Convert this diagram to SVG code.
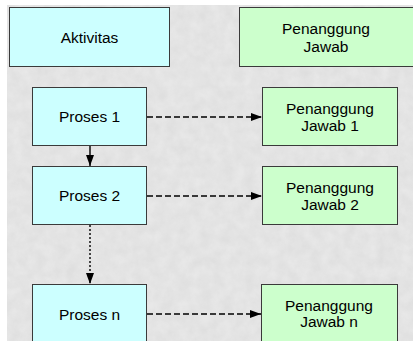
<svg xmlns="http://www.w3.org/2000/svg" width="413" height="341" viewBox="0 0 413 341">
<defs>
<filter id="tex" x="0" y="0" width="100%" height="100%">
<feTurbulence type="fractalNoise" baseFrequency="0.09" numOctaves="3" seed="4" result="n"/>
<feColorMatrix in="n" type="matrix" values="0 0 0 0 0.55  0 0 0 0 0.55  0 0 0 0 0.55  0 0 0 -1.2 1.0" result="m"/>
<feComposite in="m" in2="SourceGraphic" operator="in"/>
</filter>
<marker id="ah" viewBox="0 0 11 8" refX="11" refY="4" markerWidth="11" markerHeight="8" markerUnits="userSpaceOnUse" orient="auto">
<path d="M0,0 L11,4 L0,8 Z" fill="#000"/>
</marker>
</defs>
<style>
.a{fill:#ccffff;stroke:#3a3a3a;stroke-width:1}
.g{fill:#ccffcc;stroke:#3a3a3a;stroke-width:1}
text{font-family:"Liberation Sans",Arial,sans-serif;font-size:15.5px;fill:#000;text-anchor:middle}
.c{stroke:#000;stroke-width:1.4;fill:none}
</style>
<rect x="0" y="0" width="413" height="341" fill="#ffffff"/>
<rect x="7" y="5" width="406" height="336" fill="#e8e8e8"/>
<rect x="7" y="5" width="406" height="336" fill="#e8e8e8" filter="url(#tex)" opacity="0.3"/>
<g id="hdr-aktivitas">
<rect class="a" x="9.5" y="7.5" width="160" height="59"/>
<text x="89.5" y="42.5">Aktivitas</text>
</g>
<g id="hdr-pj">
<rect class="g" x="239.5" y="7.5" width="180" height="59"/>
<text x="326" y="34">Penanggung</text>
<text x="326" y="52">Jawab</text>
</g>
<g id="proses1">
<rect class="a" x="32.5" y="87.5" width="114" height="58"/>
<text x="89.5" y="122">Proses 1</text>
</g>
<g id="pj1">
<rect class="g" x="262.5" y="87.5" width="135" height="58"/>
<text x="330" y="113.5">Penanggung</text>
<text x="330" y="130.5">Jawab 1</text>
</g>
<g id="proses2">
<rect class="a" x="32.5" y="166.5" width="114" height="58"/>
<text x="89.5" y="201">Proses 2</text>
</g>
<g id="pj2">
<rect class="g" x="262.5" y="166.5" width="135" height="58"/>
<text x="330" y="192.5">Penanggung</text>
<text x="330" y="209.5">Jawab 2</text>
</g>
<g id="prosesn">
<rect class="a" x="32.5" y="284.5" width="114" height="60"/>
<text x="89.5" y="319.5">Proses n</text>
</g>
<g id="pjn">
<rect class="g" x="261.5" y="284.5" width="136" height="60"/>
<text x="329" y="310.5">Penanggung</text>
<text x="329" y="327">Jawab n</text>
</g>
<g id="connectors">
<line class="c" x1="90" y1="146" x2="90" y2="166" marker-end="url(#ah)"/>
<line class="c" x1="90" y1="225" x2="90" y2="284" stroke-dasharray="2 2" marker-end="url(#ah)"/>
<line class="c" x1="147" y1="117" x2="262" y2="117" stroke-dasharray="6 3" marker-end="url(#ah)"/>
<line class="c" x1="147" y1="196" x2="262" y2="196" stroke-dasharray="6 3" marker-end="url(#ah)"/>
<line class="c" x1="147" y1="314" x2="261" y2="314" stroke-dasharray="6 3" marker-end="url(#ah)"/>
</g>
</svg>
